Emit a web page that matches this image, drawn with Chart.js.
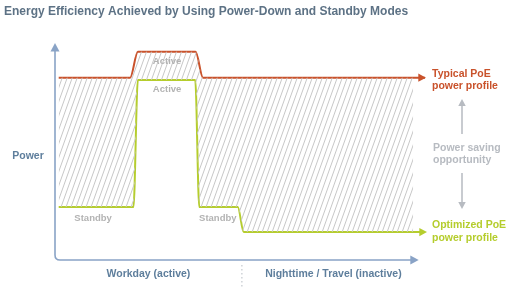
<!DOCTYPE html>
<html>
<head>
<meta charset="utf-8">
<script src="https://cdn.jsdelivr.net/npm/chart.js@4.4.1/dist/chart.umd.min.js"></script>
<style>
  html, body { margin: 0; padding: 0; background: #fff; }
  canvas { display: block; }
</style>
</head>
<body>
<canvas id="myChart" width="516" height="290"></canvas>
<script>
// time runs 0..100 across the axis, power 0..100 up the axis
const typicalTime = [1, 20.3, 22.4, 38.0, 40.0, 96.8, 100];
const typicalPower = [84, 84, 96, 96, 84, 84, 84];
const optimizedTime = [1, 21.2, 22.4, 37.9, 39.0, 49.4, 51.0, 96.8, 100];
const optimizedPower = [24.4, 24.4, 83, 83, 24.4, 24.4, 12.9, 12.9, 12.9];
const periodBounds = [0, 50.5, 100];
const periodLabels = ['Workday (active)', 'Nighttime / Travel (inactive)'];
const seriesLabels = [['Typical PoE', 'power profile'], ['Optimized PoE', 'power profile']];

const RED = '#c9522b';
const GREEN = '#b5cd2d';
const AXIS = '#89a3c6';
const FONT = '"Liberation Sans", Arial, sans-serif';

const toPoints = (xs, ys) => xs.map((x, i) => ({ x: x, y: ys[i] }));

// diagonal hatch pattern
const makeHatch = () => {
    var c = document.createElement('canvas');
    c.width = 5;
    c.height = 14;
    var g = c.getContext('2d');
    g.strokeStyle = '#c8c8c8';
    g.lineWidth = 1;
    [-5, 0, 5].forEach(function (o) {
        g.beginPath();
        g.moveTo(o, 14);
        g.lineTo(o + 5, 0);
        g.stroke();
    });
    return g.createPattern(c, 'repeat');
};

const arrowHead = (ctx, x, y, dir, size, color) => {
    // dir: 'right' | 'up' | 'down'
    ctx.save();
    ctx.fillStyle = color;
    ctx.beginPath();
    if (dir === 'right') {
        ctx.moveTo(x, y);
        ctx.lineTo(x - size * 1.4, y - size * 0.75);
        ctx.lineTo(x - size * 1.4, y + size * 0.75);
    } else if (dir === 'up') {
        ctx.moveTo(x, y);
        ctx.lineTo(x - size * 0.75, y + size * 1.4);
        ctx.lineTo(x + size * 0.75, y + size * 1.4);
    } else {
        ctx.moveTo(x, y);
        ctx.lineTo(x - size * 0.75, y - size * 1.4);
        ctx.lineTo(x + size * 0.75, y - size * 1.4);
    }
    ctx.closePath();
    ctx.fill();
    ctx.restore();
};

const diagram = {
    id: 'diagram',
    afterDraw(chart) {
        const ctx = chart.ctx;
        const xs = chart.scales.x;
        const ys = chart.scales.y;
        const px = v => xs.getPixelForValue(v);
        const py = v => ys.getPixelForValue(v);
        ctx.save();

        // title
        ctx.fillStyle = '#5d7285';
        ctx.font = 'bold 12px ' + FONT;
        ctx.textAlign = 'left';
        ctx.textBaseline = 'middle';
        ctx.fillText('Energy Efficiency Achieved by Using Power-Down and Standby Modes', 4, 12);

        // axes with rounded corner
        const ox = px(0), oy = py(0);
        ctx.strokeStyle = AXIS;
        ctx.lineWidth = 1.6;
        ctx.beginPath();
        ctx.moveTo(ox, py(100) + 6);
        ctx.lineTo(ox, oy - 5);
        ctx.quadraticCurveTo(ox, oy, ox + 5, oy);
        ctx.lineTo(px(98.3) - 6, oy);
        ctx.stroke();
        arrowHead(ctx, ox, py(100), 'up', 6, AXIS);
        arrowHead(ctx, px(98.3), oy, 'right', 6, AXIS);

        // series end arrows
        arrowHead(ctx, px(100) + 1, py(typicalPower[typicalPower.length - 1]), 'right', 5.5, RED);
        arrowHead(ctx, px(100) + 2, py(optimizedPower[optimizedPower.length - 1]), 'right', 5.5, GREEN);

        // period labels + divider
        ctx.font = 'bold 10.5px ' + FONT;
        ctx.fillStyle = '#5e7e9c';
        ctx.textAlign = 'center';
        periodLabels.forEach(function (lab, i) {
            ctx.fillText(lab, px((periodBounds[i] + periodBounds[i + 1]) / 2), oy + 14);
        });
        ctx.strokeStyle = '#cfd3d8';
        ctx.lineWidth = 1.5;
        ctx.setLineDash([1.5, 2.5]);
        ctx.beginPath();
        ctx.moveTo(px(periodBounds[1]), oy + 5);
        ctx.lineTo(px(periodBounds[1]), oy + 27);
        ctx.stroke();
        ctx.setLineDash([]);

        // y label
        ctx.fillText('Power', 28, py(48));

        // in-plot state labels
        ctx.font = 'bold 9.5px ' + FONT;
        ctx.fillStyle = '#b3b3b3';
        ctx.fillText('Active', px(30.3), py(91.7));
        ctx.fillText('Active', px(30.3), py(78.8));
        ctx.fillText('Standby', px(10.3), py(19.4));
        ctx.fillText('Standby', px(44), py(19.4));

        // right side labels
        const lx = px(100) + 7;
        ctx.textAlign = 'left';
        ctx.font = 'bold 10.5px ' + FONT;
        ctx.fillStyle = RED;
        ctx.fillText(seriesLabels[0][0], lx, py(typicalPower[0]) - 4);
        ctx.fillText(seriesLabels[0][1], lx, py(typicalPower[0]) + 8);
        ctx.fillStyle = GREEN;
        ctx.fillText(seriesLabels[1][0], lx, py(optimizedPower[optimizedPower.length - 1]) - 7);
        ctx.fillText(seriesLabels[1][1], lx, py(optimizedPower[optimizedPower.length - 1]) + 6);

        ctx.fillStyle = '#b7bbc1';
        ctx.fillText('Power saving', lx + 1, 148);
        ctx.fillText('opportunity', lx + 1, 160);

        // gray up/down arrows
        const ax = 462;
        ctx.strokeStyle = '#b7bbc1';
        ctx.lineWidth = 1.5;
        ctx.beginPath();
        ctx.moveTo(ax, 134);
        ctx.lineTo(ax, 105);
        ctx.moveTo(ax, 173);
        ctx.lineTo(ax, 203);
        ctx.stroke();
        arrowHead(ctx, ax, 99, 'up', 5, '#b7bbc1');
        arrowHead(ctx, ax, 209, 'down', 5, '#b7bbc1');

        ctx.restore();
    }
};

const hatch = makeHatch();
const ctx = document.getElementById('myChart').getContext('2d');
const myChart = new Chart(ctx, {
    type: 'line',
    data: {
        datasets: [{
            // hatched band between the two profiles
            data: toPoints(typicalTime.slice(0, -1), typicalPower.slice(0, -1)),
            borderWidth: 0,
            pointRadius: 0,
            cubicInterpolationMode: 'monotone',
            fill: { target: '+1', above: hatch, below: hatch }
        }, {
            data: toPoints(optimizedTime.slice(0, -1), optimizedPower.slice(0, -1)),
            borderWidth: 0,
            pointRadius: 0,
            cubicInterpolationMode: 'monotone',
            fill: false
        }, {
            label: 'Typical PoE power profile',
            data: toPoints(typicalTime, typicalPower),
            borderColor: RED,
            borderWidth: 2,
            pointRadius: 0,
            cubicInterpolationMode: 'monotone',
            fill: false
        }, {
            label: 'Optimized PoE power profile',
            data: toPoints(optimizedTime, optimizedPower),
            borderColor: GREEN,
            borderWidth: 2,
            pointRadius: 0,
            cubicInterpolationMode: 'monotone',
            fill: false
        }]
    },
    options: {
        responsive: false,
        animation: false,
        clip: false,
        layout: { padding: { left: 55, right: 91, top: 43, bottom: 30 } },
        scales: {
            x: { type: 'linear', min: 0, max: 100, display: false },
            y: { min: 0, max: 100, display: false }
        },
        plugins: {
            legend: { display: false },
            tooltip: { enabled: false },
            title: { display: false }
        }
    },
    plugins: [diagram]
});
</script>
</body>
</html>
